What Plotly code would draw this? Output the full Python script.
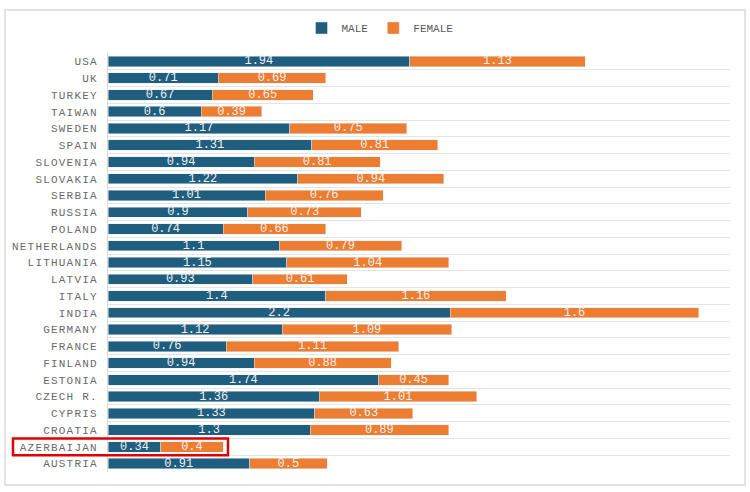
import plotly.graph_objects as go

countries = ["USA", "UK", "TURKEY", "TAIWAN", "SWEDEN", "SPAIN", "SLOVENIA", "SLOVAKIA",
             "SERBIA", "RUSSIA", "POLAND", "NETHERLANDS", "LITHUANIA", "LATVIA", "ITALY",
             "INDIA", "GERMANY", "FRANCE", "FINLAND", "ESTONIA", "CZECH R.", "CYPRIS",
             "CROATIA", "AZERBAIJAN", "AUSTRIA"]
male = [1.94, 0.71, 0.67, 0.6, 1.17, 1.31, 0.94, 1.22, 1.01, 0.9, 0.74, 1.1, 1.15, 0.93,
        1.4, 2.2, 1.12, 0.76, 0.94, 1.74, 1.36, 1.33, 1.3, 0.34, 0.91]
female = [1.13, 0.69, 0.65, 0.39, 0.75, 0.81, 0.81, 0.94, 0.76, 0.73, 0.66, 0.79, 1.04, 0.61,
          1.16, 1.6, 1.09, 1.11, 0.88, 0.45, 1.01, 0.63, 0.89, 0.4, 0.5]
highlight = "AZERBAIJAN"

MONO = "Liberation Mono, Courier New, monospace"
BLUE = "#1f5e7e"
ORANGE = "#ed7d31"

fig = go.Figure()
for name, vals, col in [("MALE", male, BLUE), ("FEMALE", female, ORANGE)]:
    fig.add_trace(go.Bar(
        y=countries, x=vals, name=name, orientation="h", marker_color=col,
        text=[str(v) for v in vals], textposition="inside", insidetextanchor="middle",
        constraintext="none",
        textfont=dict(family=MONO, size=12, color="#f0f0f0"),
    ))

W, H = 750, 492
L, R, T, B = 108, 20, 53, 20
pw, ph = W - L - R, H - T - B

def px_x(x):
    return (x - L) / pw

def px_y(y):
    return (H - B - y) / ph

hi = countries.index(highlight)
fig.update_layout(
    width=W, height=H,
    margin=dict(l=L, r=R, t=T, b=B),
    barmode="stack", bargap=0.38,
    plot_bgcolor="white", paper_bgcolor="white",
    font=dict(family=MONO, size=11, color="#595959"),
    legend=dict(orientation="h", x=px_x(380), xanchor="center", y=px_y(28), yanchor="middle",
                font=dict(family=MONO, size=11, color="#595959"),
                itemwidth=30, traceorder="normal"),
    xaxis=dict(range=[0, 4], showgrid=False, showticklabels=False, zeroline=False,
               ticks=""),
    yaxis=dict(autorange="reversed", tickson="boundaries", showgrid=True,
               gridcolor="#e4e4e4", showline=True, linecolor="#d9d9d9",
               ticks="", ticklabelstandoff=7,
               tickfont=dict(family=MONO, size=11, color="#6a6a6a")),
    shapes=[
        dict(type="rect", xref="paper", yref="paper",
             x0=px_x(5), x1=px_x(745), y0=px_y(485), y1=px_y(10),
             line=dict(color="#d9d9d9", width=1.5), layer="below"),
        dict(type="rect", xref="paper", yref="y",
             x0=px_x(13), x1=px_x(228), y0=hi - 0.5, y1=hi + 0.5,
             line=dict(color="#e00000", width=2.5)),
    ],
)

post = """
document.querySelectorAll('.ytick text').forEach(function(t){t.style.letterSpacing='1.2px';});
"""
fig.write_html("out.html", post_script=post)
